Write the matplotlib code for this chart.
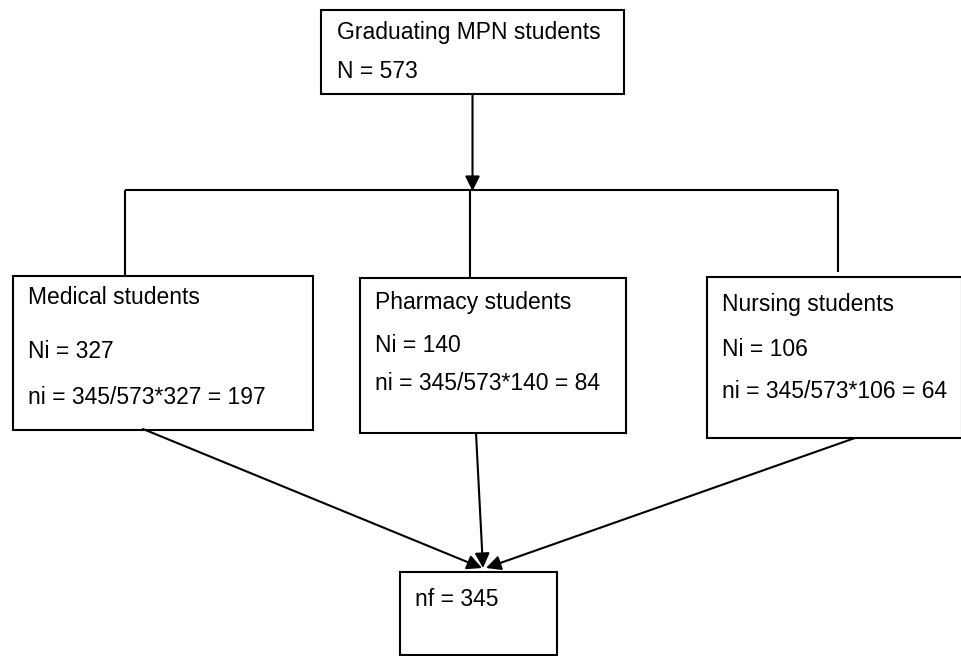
import matplotlib
matplotlib.use("Agg")
import matplotlib.pyplot as plt
from matplotlib.patches import Rectangle, FancyArrowPatch

# data
total_label = "Graduating MPN students"
total_n = 573
group_labels = ["Medical students", "Pharmacy students", "Nursing students"]
group_N = [327, 140, 106]
group_n = [197, 84, 64]
final_n = 345

# layout (pixel coords, y down)
W, H = 961, 656
top_box = (321, 10, 624, 94)
group_boxes = [(13, 276, 313, 430), (360, 278, 626, 433), (707, 277, 962, 438)]
group_text_y = [(298, 352, 398), (302, 345, 384), (304, 349, 392)]
group_drop_x = [125, 470, 838]
group_drop_end = [276, 278, 272]
bar_y = 190
final_box = (400, 572, 557, 655)
arrow_starts = [(143, 429), (476, 433), (855, 438)]
arrow_ends = [(482, 568), (483, 568), (486, 568)]

FS = 16.5
LW = 1.5
plt.rcParams["font.family"] = ["Liberation Sans", "DejaVu Sans"]

fig = plt.figure(figsize=(W / 100, H / 100), dpi=100)
ax = fig.add_axes([0, 0, 1, 1])
ax.set_xlim(0, W)
ax.set_ylim(H, 0)
ax.axis("off")


def box(b):
    x0, y0, x1, y1 = b
    ax.add_patch(Rectangle((x0, y0), x1 - x0, y1 - y0, fill=False,
                           edgecolor="black", linewidth=LW))


def line(xs, ys):
    ax.plot(xs, ys, color="black", linewidth=LW, solid_capstyle="butt")


def arrow(p0, p1):
    ax.add_patch(FancyArrowPatch(p0, p1, arrowstyle="-|>", mutation_scale=22,
                                 color="black", linewidth=LW,
                                 shrinkA=0, shrinkB=0))


# top box
box(top_box)
ax.text(337, 32, total_label, fontsize=FS, va="center", ha="left")
ax.text(337, 72, f"N = {total_n}", fontsize=FS, va="center", ha="left")

# connector from top box down to the bar, then drops to each group
cx = (top_box[0] + top_box[2]) / 2
arrow((cx, top_box[3]), (cx, bar_y + 1))
line([group_drop_x[0], group_drop_x[-1]], [bar_y, bar_y])
for x, yend in zip(group_drop_x, group_drop_end):
    line([x, x], [bar_y, yend])

# group boxes
for b, label, N, n, ty in zip(group_boxes, group_labels, group_N, group_n, group_text_y):
    box(b)
    tx = b[0] + 15
    ax.text(tx, ty[0], label, fontsize=FS, va="center", ha="left")
    ax.text(tx, ty[1], f"Ni = {N}", fontsize=FS, va="center", ha="left")
    ax.text(tx, ty[2], f"ni = {final_n}/{total_n}*{N} = {n}", fontsize=FS,
            va="center", ha="left")

# arrows to final sample box
for p0, p1 in zip(arrow_starts, arrow_ends):
    arrow(p0, p1)

box(final_box)
ax.text(final_box[0] + 15, 600, f"nf = {final_n}", fontsize=FS, va="center", ha="left")

fig.savefig("out.png", dpi=100, facecolor="white")
